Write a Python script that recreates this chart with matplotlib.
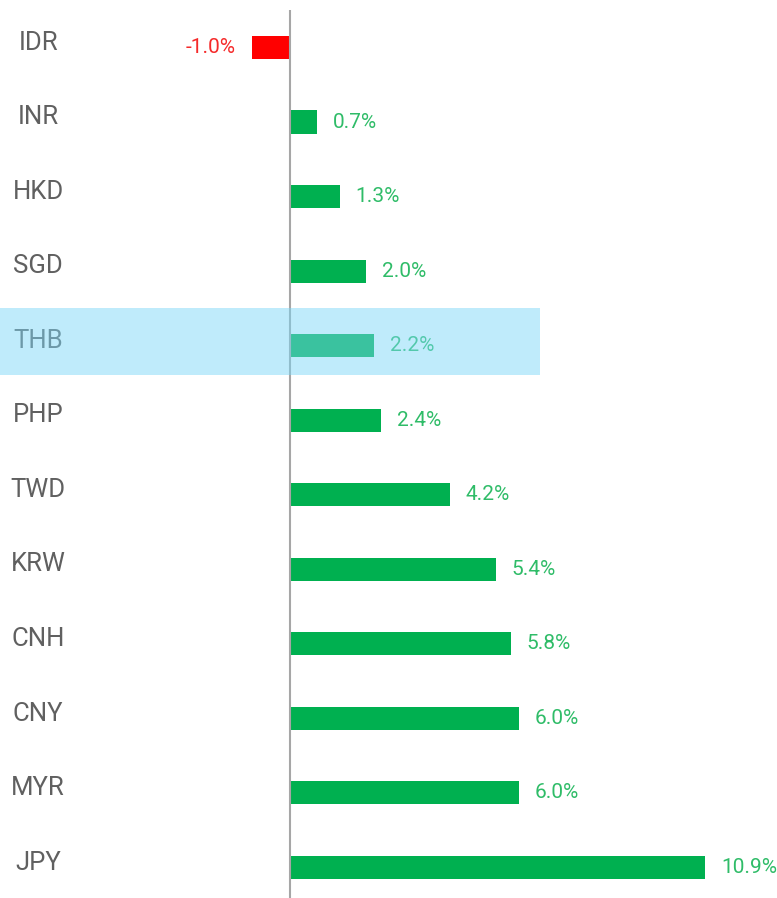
import matplotlib
matplotlib.use("Agg")
import matplotlib.pyplot as plt
from matplotlib.patches import Rectangle

# Datos del grafico
monedas = ["IDR", "INR", "HKD", "SGD", "THB", "PHP", "TWD", "KRW", "CNH", "CNY", "MYR", "JPY"]
valores = [-1.0, 0.7, 1.3, 2.0, 2.2, 2.4, 4.2, 5.4, 5.8, 6.0, 6.0, 10.9]
resaltada = "THB"

plt.rcParams['font.family'] = ['Roboto', 'DejaVu Sans']

fig = plt.figure(figsize=(7.77, 8.98), dpi=100)
ax = fig.add_axes([0, 0, 1, 1])
ax.set_xlim(-7.62, 12.79)
ax.set_ylim(11.41, -0.637)
ax.axis('off')

posiciones = list(range(len(monedas)))
colores = ['#ff0000' if v < 0 else '#00b050' for v in valores]
ax.barh(posiciones, valores, height=0.31, color=colores, zorder=2)

# Linea del cero
ax.vlines(0, -0.503, 11.41, color='#a6a6a6', linewidth=1.5, zorder=3)

for i, (moneda, v) in enumerate(zip(monedas, valores)):
    ax.text(-6.62, i - 0.065, moneda, ha='center', va='center', fontsize=18.5,
            color='#606060')
    if v < 0:
        ax.annotate(f"{v:.1f}%", (v, i), xytext=(-16, 0), textcoords='offset pixels',
                    ha='right', va='center', fontsize=15, color='#f52a2a')
    else:
        ax.annotate(f"{v:.1f}%", (v, i), xytext=(16, 0), textcoords='offset pixels',
                    ha='left', va='center', fontsize=15, color='#2fbc68')

# Banda de resaltado
k = monedas.index(resaltada)
ax.add_patch(Rectangle((-7.62, k - 0.506), 7.62 + 6.57, 0.9, facecolor='#7bd7f7',
                       alpha=0.48, edgecolor='none', zorder=5))

fig.savefig("out.png", dpi=100)
